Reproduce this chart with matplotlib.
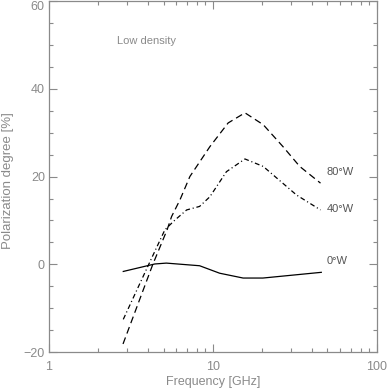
import matplotlib
matplotlib.use("Agg")
import matplotlib.pyplot as plt
from matplotlib.ticker import FixedLocator, NullFormatter, MultipleLocator

# values
freq_80w = [2.83, 4.3, 5.26, 5.6, 6.3, 7.24, 9.59, 12.4, 15.7, 20.3, 26.8, 33.9, 45.4]
pol_80w = [-18.1, 0.0, 7.9, 10.9, 14.7, 20.0, 26.8, 32.2, 34.5, 31.8, 26.8, 22.3, 18.5]

freq_40w = [2.84, 4.06, 5.1, 5.87, 6.92, 8.3, 9.59, 12.1, 15.7, 20.3, 32.4, 45.4]
pol_40w = [-12.5, 0.0, 7.9, 10.1, 12.4, 13.2, 15.4, 21.1, 24.0, 22.3, 15.8, 12.4]

freq_0w = [2.84, 4.42, 5.2, 8.3, 11.0, 15.3, 20.2, 45.9]
pol_0w = [-1.6, 0.1, 0.3, -0.3, -2.0, -3.1, -3.1, -1.8]

x_ticks = [1, 10, 100]
x_ticklabels = ["1", "10", "100"]
y_ticks = [-20, 0, 20, 40, 60]
y_ticklabels = ["\u221220", "0", "20", "40", "60"]

gray = "#8a8a8a"
plt.rcParams["lines.scale_dashes"] = False
plt.rcParams["font.family"] = ["Liberation Sans", "DejaVu Sans"]

fig = plt.figure(figsize=(3.87, 3.88), dpi=100)
ax = fig.add_axes([0.1266, 0.092, 0.8468, 0.906])

ax.plot(freq_80w, pol_80w, color="black", lw=0.9, dashes=(5, 3))
ax.plot(freq_40w, pol_40w, color="black", lw=0.9, dashes=(3.5, 2, 0.8, 2))
ax.plot(freq_0w, pol_0w, color="black", lw=0.9)

ax.set_xscale("log")
ax.set_xlim(1, 100)
ax.set_ylim(-20, 60)

ax.xaxis.set_major_locator(FixedLocator(x_ticks))
ax.set_xticklabels(x_ticklabels)
ax.xaxis.set_minor_locator(FixedLocator([k * d for d in (1, 10) for k in range(2, 10)]))
ax.xaxis.set_minor_formatter(NullFormatter())
ax.set_yticks(y_ticks)
ax.set_yticklabels(y_ticklabels)
ax.yaxis.set_minor_locator(MultipleLocator(5))

for s in ax.spines.values():
    s.set_color(gray)
    s.set_linewidth(0.9)
ax.tick_params(which="both", direction="in", top=True, right=True, color=gray,
               labelcolor=gray, labelsize=9, width=0.8)
ax.tick_params(which="major", length=5.5)
ax.tick_params(which="minor", length=3)
ax.tick_params(axis="x", pad=6)
ax.tick_params(axis="y", pad=3)

# top label sits just below the frame edge, as in the reference
ax.get_yticklabels()[-1].set_va("top")

fig.text(0.55, 0.0155, "Frequency [GHz]", color=gray, fontsize=9,
         ha="center", va="center")
fig.text(0.02, 0.535, "Polarization degree [%]", color=gray, fontsize=9.5,
         ha="center", va="center", rotation=90)

ax.text(2.6, 50.8, "Low density", color=gray, fontsize=8, va="center")
ax.text(49.5, 21.0, "80°W", color="#555555", fontsize=8, va="center")
ax.text(49.5, 12.7, "40°W", color="#555555", fontsize=8, va="center")
ax.text(49.5, 0.8, "0°W", color="#555555", fontsize=8, va="center")

fig.savefig("out.png", dpi=100)
